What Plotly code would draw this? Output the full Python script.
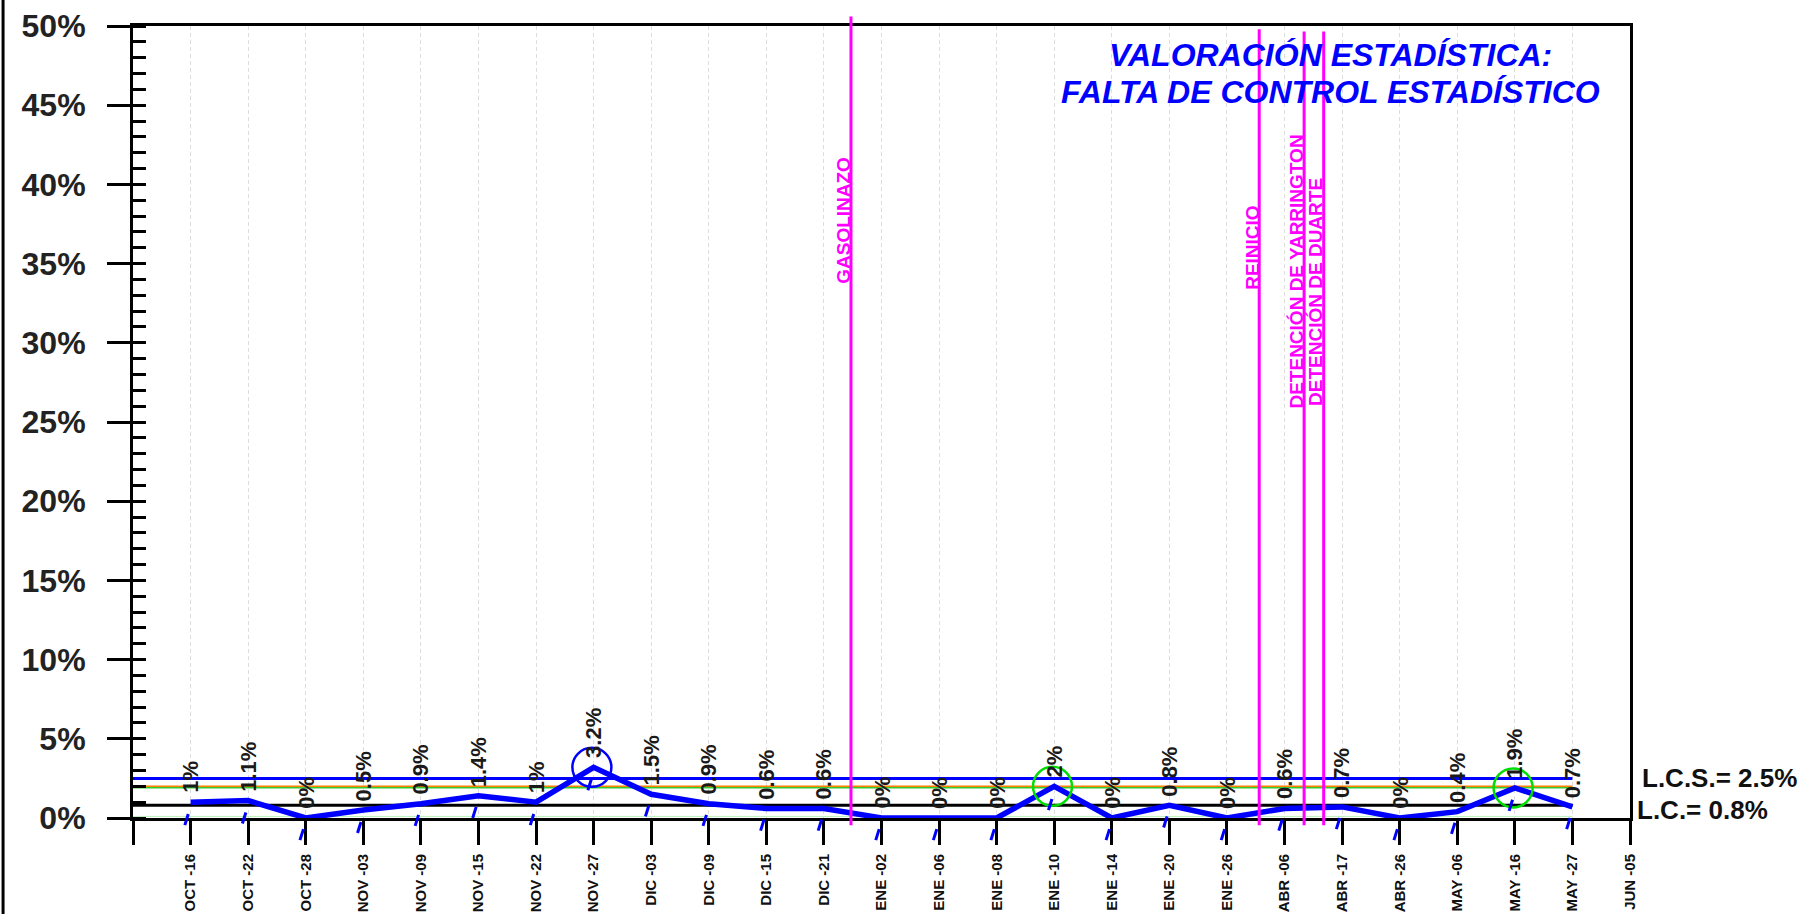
import plotly.graph_objects as go

# ---------------- data ----------------
categorias = ["OCT -16", "OCT -22", "OCT -28", "NOV -03", "NOV -09", "NOV -15", "NOV -22",
              "NOV -27", "DIC -03", "DIC -09", "DIC -15", "DIC -21", "ENE -02", "ENE -06",
              "ENE -08", "ENE -10", "ENE -14", "ENE -20", "ENE -26", "ABR -06", "ABR -17",
              "ABR -26", "MAY -06", "MAY -16", "MAY -27", "JUN -05"]
valores = [1, 1.1, 0, 0.5, 0.9, 1.4, 1, 3.2, 1.5, 0.9, 0.6, 0.6, 0, 0, 0, 2, 0, 0.8, 0,
           0.6, 0.7, 0, 0.4, 1.9, 0.7]
marcas_inferiores = [-0.1, 0.0, -1.05, -0.6, -0.15, 0.35, -0.1, 2.1, 0.45, -0.15, -0.45,
                     -0.45, -1.05, -1.05, -1.05, 0.85, -1.05, -0.25, -1.05, -0.45, -0.35,
                     -1.05, -0.65, 0.8, -0.35]
lcs = 2.5
lc = 0.8
linea_naranja = 2.0
linea_verde = 1.92
linea_verde_clara = 0.1
circulos_cat = ["NOV -27", "ENE -10", "MAY -16"]
circulos_color = ["#0000FF", "#00DD00", "#00DD00"]
eventos = ["GASOLINAZO", "REINICIO", "DETENCIÓN DE YARRINGTON", "DETENCIÓN DE DUARTE"]
eventos_x = [12.47, 19.56, 20.34, 20.68]
eventos_texto_y = [33.6, 33.2, 25.7, 25.9]
eventos_tope = [1.012, 0.996, 0.993, 0.993]
titulo = ["VALORACIÓN ESTADÍSTICA:", "FALTA DE CONTROL ESTADÍSTICO"]
titulo_y = [0.964, 0.917]

Y_MIN, Y_MAX = 0, 50
X_MIN, X_MAX = 0, 26
MARCA_ALTO = 0.35       # half height of the small slanted marks (in % units)
MARCA_INCL = 0.03       # horizontal lean of the marks (category units)

FONT = "Liberation Sans, Arial, sans-serif"
pos = list(range(1, len(valores) + 1))
x_fin = len(valores)

fig = go.Figure()


def hline(y, color, width):
    fig.add_trace(go.Scatter(x=[0, x_fin], y=[y, y], mode="lines",
                             line=dict(color=color, width=width),
                             hoverinfo="skip", showlegend=False))


hline(linea_verde_clara, "#b8f0b8", 1)
hline(lc, "#000000", 3)
hline(linea_verde, "#33cc33", 2)
hline(linea_naranja, "#ff8000", 1.5)
hline(lcs, "#0000FF", 3)

# data line
fig.add_trace(go.Scatter(x=pos, y=valores, mode="lines",
                         line=dict(color="#0000FF", width=5.5),
                         hoverinfo="x+y", showlegend=False))

# circles
for cat, col in zip(circulos_cat, circulos_color):
    i = categorias.index(cat)
    fig.add_trace(go.Scatter(x=[i + 1 - 0.03], y=[valores[i]], mode="markers",
                             marker=dict(symbol="circle-open", size=39,
                                         line=dict(color=col, width=2.5), color=col),
                             cliponaxis=False, hoverinfo="skip", showlegend=False))


# small slanted blue marks (can go below the 0 axis -> paper y)
def to_paper(v):
    return (v - Y_MIN) / (Y_MAX - Y_MIN)


for p, m in zip(pos, marcas_inferiores):
    xc = p - 0.07
    fig.add_shape(type="line", xref="x", yref="paper",
                  x0=xc - MARCA_INCL, x1=xc + MARCA_INCL,
                  y0=to_paper(m - MARCA_ALTO), y1=to_paper(m + MARCA_ALTO),
                  line=dict(color="#0000FF", width=3), layer="above")

# value labels
for p, v in zip(pos, valores):
    fig.add_annotation(x=p, y=v, xref="x", yref="y", text=f"<b>{v:g}%</b>",
                       textangle=-90, showarrow=False, xanchor="center", yanchor="bottom",
                       yshift=7, font=dict(family=FONT, size=22, color="#1a1a1a"))

# event lines and labels
for name, ex, ey, top in zip(eventos, eventos_x, eventos_texto_y, eventos_tope):
    fig.add_shape(type="line", xref="x", yref="paper", x0=ex, x1=ex, y0=-0.009, y1=top,
                  line=dict(color="#FF00FF", width=3), layer="above")
    fig.add_annotation(x=ex, y=ey, xref="x", yref="y", text=f"<b>{name}</b>",
                       textangle=-90, showarrow=False, xanchor="right", yanchor="bottom",
                       xshift=5, font=dict(family=FONT, size=19, color="#FF00FF"))

# title (two lines)
for t, ty in zip(titulo, titulo_y):
    fig.add_annotation(x=0.8, y=ty, xref="paper", yref="paper",
                       text="<b><i>" + t + "</i></b>",
                       showarrow=False, xanchor="center", yanchor="middle",
                       font=dict(family=FONT, size=32, color="#0000FF"))

# limit labels
fig.add_annotation(x=1, y=lcs, xref="paper", yref="y", text=f"<b>L.C.S.= {lcs:g}%</b>",
                   showarrow=False, xanchor="left", yanchor="middle", xshift=10,
                   font=dict(family=FONT, size=26, color="#111111"))
fig.add_annotation(x=1, y=lc, xref="paper", yref="y", text=f"<b>L.C.= {lc:g}%</b>",
                   showarrow=False, xanchor="left", yanchor="middle", xshift=5, yshift=-5,
                   font=dict(family=FONT, size=26, color="#111111"))

# left frame line
fig.add_shape(type="line", xref="paper", yref="paper", x0=-0.0868, x1=-0.0868,
              y0=-0.13, y1=1.04, line=dict(color="#000000", width=3))

fig.update_layout(
    width=1805, height=914,
    margin=dict(l=133, r=175, t=26, b=96, autoexpand=False),
    plot_bgcolor="white", paper_bgcolor="white",
    font=dict(family=FONT),
    showlegend=False,
    xaxis=dict(range=[X_MIN, X_MAX], tickmode="array", tickvals=list(range(0, 27)),
               ticktext=[""] + categorias, tickangle=-90, automargin=False,
               ticks="outside", ticklen=24, tickwidth=3, tickcolor="black",
               showline=True, linewidth=3, linecolor="black", mirror=True,
               showgrid=True, gridcolor="#dddddd", gridwidth=1, griddash="4px,3px",
               zeroline=False, ticklabelstandoff=3,
               tickfont=dict(family=FONT, size=15, color="#111111", weight="bold")),
    yaxis=dict(range=[Y_MIN, Y_MAX], tick0=0, dtick=5, ticksuffix="%", automargin=False,
               ticks="outside", ticklen=23, tickwidth=3, tickcolor="black",
               showline=True, linewidth=3, linecolor="black", mirror=True,
               showgrid=False, zeroline=False, ticklabelstandoff=15,
               minor=dict(ticks="inside", dtick=1, ticklen=13, tickwidth=3,
                          tickcolor="black", showgrid=False),
               tickfont=dict(family=FONT, size=32, color="#222222", weight="bold")),
)

fig.write_html("out.html", config={"displayModeBar": False},
               post_script="document.body.style.margin='0';")
